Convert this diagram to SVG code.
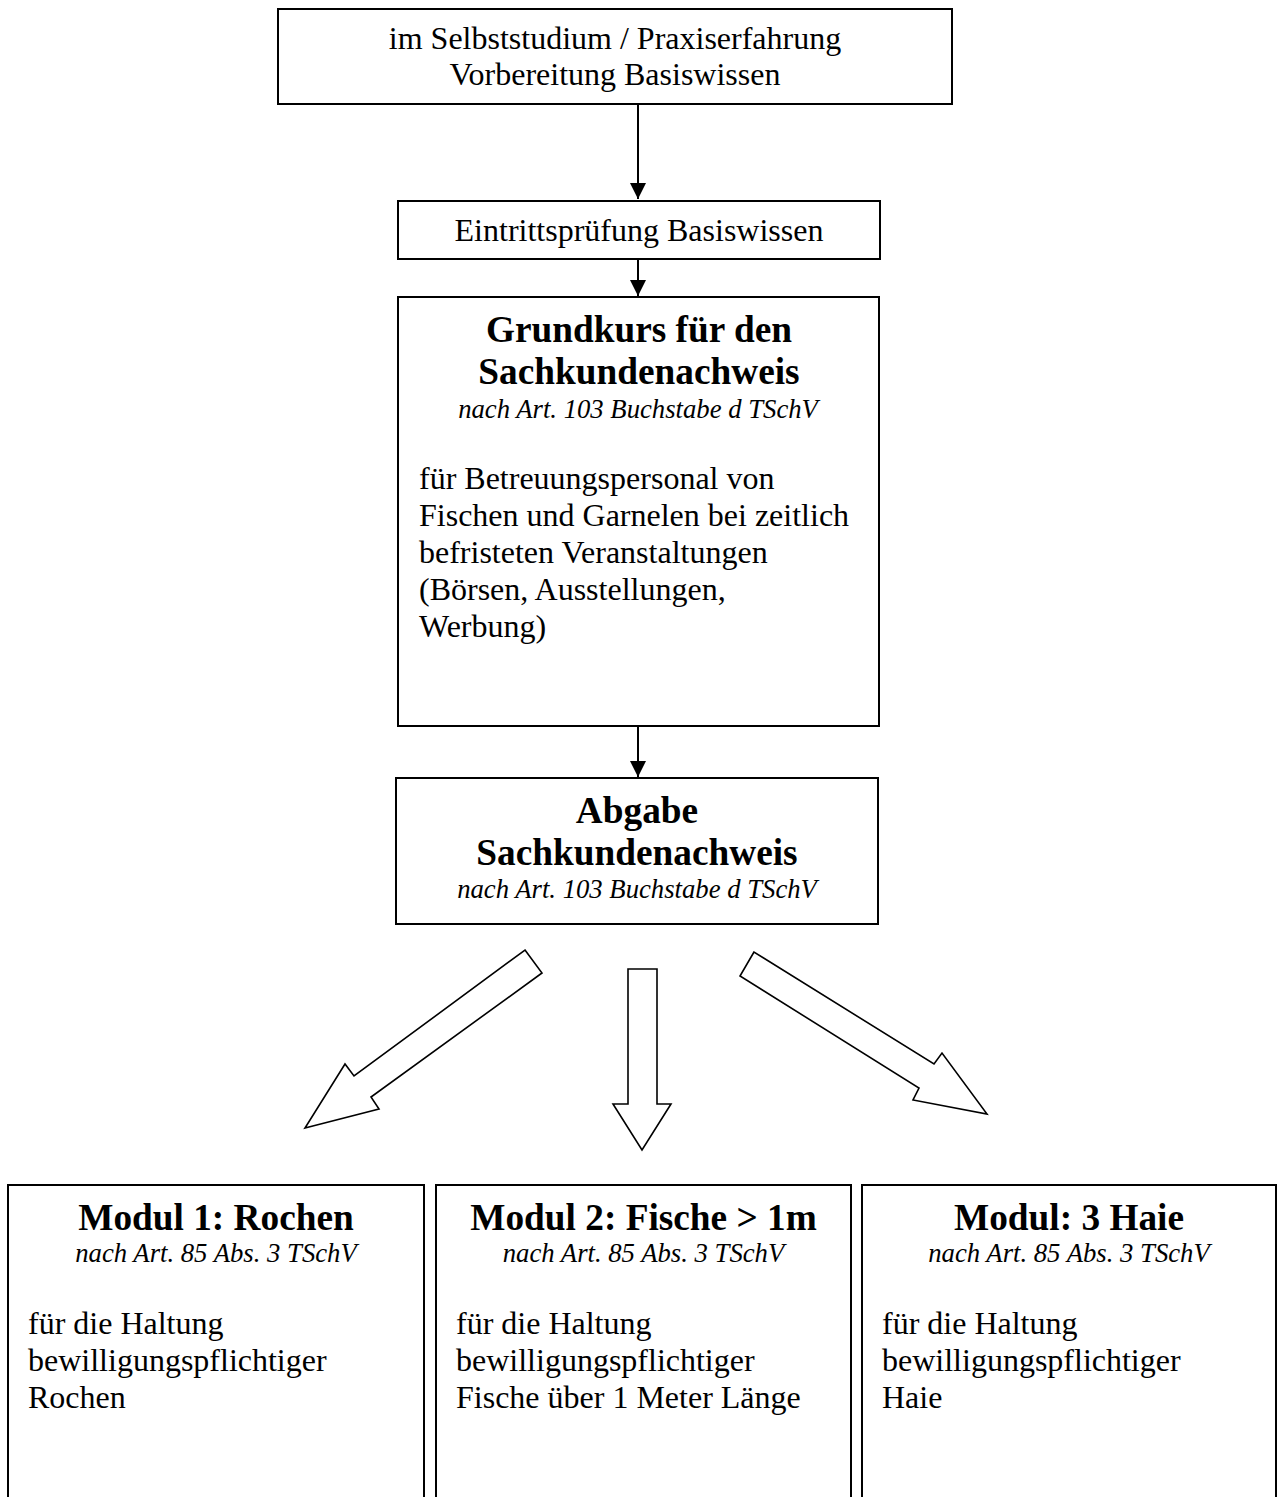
<svg xmlns="http://www.w3.org/2000/svg" width="1283" height="1497" viewBox="0 0 1283 1497">
<style>
.box{fill:#fff;stroke:#000;stroke-width:2}
.t{font-family:"Liberation Serif","Times New Roman",serif;fill:#000}
.n{font-size:32px}
.b{font-size:37.3px;font-weight:bold}
.i{font-size:26.7px;font-style:italic}
.c{text-anchor:middle}
.ln{stroke:#000;stroke-width:2;fill:none}
.blk{fill:#fff;stroke:#000;stroke-width:1.6;stroke-linejoin:miter}
</style>
<defs>
<marker id="ah" viewBox="0 0 16 16" markerWidth="16" markerHeight="16" refX="16" refY="8" orient="auto" markerUnits="userSpaceOnUse">
<path d="M0,0 L16,8 L0,16 z" fill="#000"/>
</marker>
</defs>
<rect width="1283" height="1497" fill="#fff"/>
<g id="n-selbst">
<rect class="box" x="278" y="9" width="674" height="95"/>
<text class="t n c" x="615" y="49">im Selbststudium / Praxiserfahrung</text>
<text class="t n c" x="615" y="85">Vorbereitung Basiswissen</text>
</g>
<g id="n-eintritt">
<rect class="box" x="398" y="201" width="482" height="58"/>
<text class="t n c" x="639" y="241">Eintrittsprüfung Basiswissen</text>
</g>
<g id="n-grundkurs">
<rect class="box" x="398" y="297" width="481" height="429"/>
<text class="t b c" x="639" y="342">Grundkurs für den</text>
<text class="t b c" x="639" y="384">Sachkundenachweis</text>
<text class="t i c" x="638" y="418">nach Art. 103 Buchstabe d TSchV</text>
<text class="t n" x="419" y="489">für Betreuungspersonal von</text>
<text class="t n" x="419" y="526">Fischen und Garnelen bei zeitlich</text>
<text class="t n" x="419" y="563">befristeten Veranstaltungen</text>
<text class="t n" x="419" y="600">(Börsen, Ausstellungen,</text>
<text class="t n" x="419" y="637">Werbung)</text>
</g>
<g id="n-abgabe">
<rect class="box" x="396" y="778" width="482" height="146"/>
<text class="t b c" x="637" y="823">Abgabe</text>
<text class="t b c" x="637" y="865">Sachkundenachweis</text>
<text class="t i c" x="637" y="898">nach Art. 103 Buchstabe d TSchV</text>
</g>
<g id="n-modul1">
<rect class="box" x="8" y="1185" width="416" height="330"/>
<text class="t b c" x="216" y="1230">Modul 1: Rochen</text>
<text class="t i c" x="216" y="1262">nach Art. 85 Abs. 3 TSchV</text>
<text class="t n" x="28" y="1334">für die Haltung</text>
<text class="t n" x="28" y="1371">bewilligungspflichtiger</text>
<text class="t n" x="28" y="1408">Rochen</text>
</g>
<g id="n-modul2">
<rect class="box" x="436" y="1185" width="415" height="330"/>
<text class="t b c" x="643.5" y="1230">Modul 2: Fische &gt; 1m</text>
<text class="t i c" x="643.5" y="1262">nach Art. 85 Abs. 3 TSchV</text>
<text class="t n" x="456" y="1334">für die Haltung</text>
<text class="t n" x="456" y="1371">bewilligungspflichtiger</text>
<text class="t n" x="456" y="1408">Fische über 1 Meter Länge</text>
</g>
<g id="n-modul3">
<rect class="box" x="862" y="1185" width="414" height="330"/>
<text class="t b c" x="1069" y="1230">Modul: 3 Haie</text>
<text class="t i c" x="1069" y="1262">nach Art. 85 Abs. 3 TSchV</text>
<text class="t n" x="882" y="1334">für die Haltung</text>
<text class="t n" x="882" y="1371">bewilligungspflichtiger</text>
<text class="t n" x="882" y="1408">Haie</text>
</g>
<g id="connectors">
<line class="ln" x1="638" y1="104" x2="638" y2="199" marker-end="url(#ah)"/>
<line class="ln" x1="638" y1="259" x2="638" y2="296" marker-end="url(#ah)"/>
<line class="ln" x1="638" y1="726" x2="638" y2="777" marker-end="url(#ah)"/>
<polygon class="blk" points="525,950 542,973 371,1097 379,1109 305,1128 345,1064 354,1076"/>
<polygon class="blk" points="628,969 657,969 657,1104 671,1104 642,1150 613,1104 628,1104"/>
<polygon class="blk" points="754,952 740,976 919,1088 913,1100 987,1114 942,1053 934,1064"/>
</g>
</svg>
